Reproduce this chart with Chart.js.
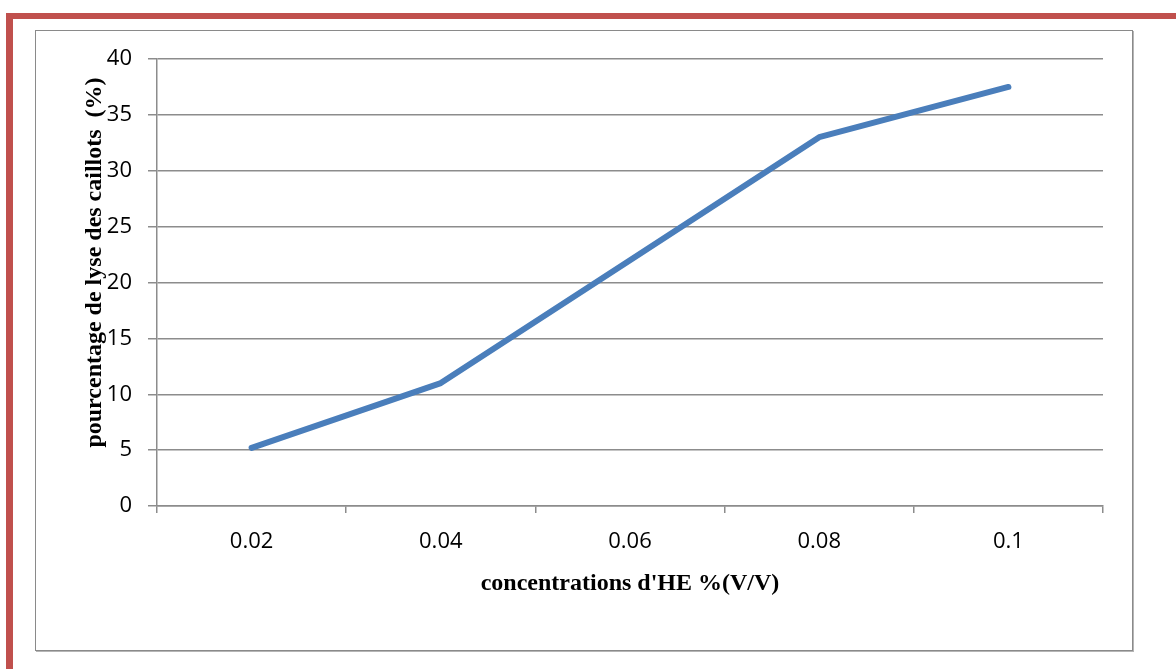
<!DOCTYPE html>
<html>
<head>
<meta charset="utf-8">
<script src="https://cdn.jsdelivr.net/npm/chart.js@4.4.1/dist/chart.umd.min.js"></script>
<style>
  html, body { margin: 0; padding: 0; background: #fff; }
  #wrap { position: relative; width: 1176px; height: 669px; overflow: hidden; }
  .frame-top { position: absolute; left: 6px; top: 13px; width: 1170px; height: 6px; background: #C0504D; }
  .frame-left { position: absolute; left: 6px; top: 13px; width: 7px; height: 656px; background: #C0504D; }
  .box { position: absolute; left: 35px; top: 30px; width: 1096px; height: 619px;
         border: 1px solid #8a8a8a; box-shadow: 1px 1px 0 #b5b5b5; }
  canvas { position: absolute; left: 0; top: 0; }
</style>
</head>
<body>
<div id="wrap">
  <div class="frame-top"></div>
  <div class="frame-left"></div>
  <div class="box"></div>
  <canvas id="c" width="1176" height="669"></canvas>
</div>
<script>
// Concentrations of essential oil (% V/V) and clot lysis (%)
const concentrations = ['0.02', '0.04', '0.06', '0.08', '0.1'];
const lysisPercent = [5.2, 11, 22, 33, 37.5];
const yTicks = [0, 5, 10, 15, 20, 25, 30, 35, 40];
const yTitle = 'pourcentage de lyse des caillots  (%)';
const xTitle = "concentrations d'HE %(V/V)";

const gridGray = '#8c8c8c';
const titleFont = 'bold 24px "Liberation Serif"';

// Vertical axis title, placed slightly above the axis centre
const yTitlePlugin = {
  id: 'yTitle',
  afterDraw(chart) {
    const ctx = chart.ctx;
    const area = chart.chartArea;
    ctx.save();
    ctx.translate(95, (area.top + area.bottom) / 2 - 20);
    ctx.rotate(-Math.PI / 2);
    ctx.font = titleFont;
    ctx.fillStyle = '#000';
    ctx.textAlign = 'center';
    ctx.textBaseline = 'middle';
    ctx.fillText(yTitle, 0, 0);
    ctx.restore();
  }
};

new Chart(document.getElementById('c'), {
  type: 'line',
  data: {
    labels: concentrations,
    datasets: [{
      data: lysisPercent,
      borderColor: '#4A7EBB',
      borderWidth: 6,
      borderCapStyle: 'round',
      borderJoinStyle: 'round',
      pointRadius: 0,
      tension: 0,
      fill: false
    }]
  },
  plugins: [yTitlePlugin],
  options: {
    responsive: false,
    animation: false,
    devicePixelRatio: 1,
    layout: { padding: { left: 0, top: 59, right: 73, bottom: 0 } },
    plugins: { legend: { display: false }, tooltip: { enabled: false } },
    scales: {
      x: {
        type: 'category',
        offset: true,
        grid: {
          offset: true,
          drawOnChartArea: false,
          drawTicks: true,
          tickLength: 7,
          color: gridGray,
          lineWidth: 1.5
        },
        border: { color: gridGray, width: 1.5 },
        ticks: {
          color: '#000',
          font: { family: 'Open Sans', size: 22 },
          padding: 16,
          maxRotation: 0
        },
        title: {
          display: true,
          text: xTitle,
          color: '#000',
          font: { family: 'Liberation Serif', size: 24, weight: 'bold' },
          padding: { top: 0, bottom: 71 }
        },
        afterFit(scale) { scale.height = 163; }
      },
      y: {
        min: 0,
        max: 40,
        afterBuildTicks(scale) { scale.ticks = yTicks.map(v => ({ value: v })); },
        grid: {
          color: gridGray,
          lineWidth: 1.5,
          drawTicks: true,
          tickLength: 9
        },
        border: { color: gridGray, width: 1.5 },
        ticks: {
          color: '#000',
          font: { family: 'Open Sans', size: 22 },
          padding: 16
        },
        title: { display: false },
        afterFit(scale) { scale.width = 157; }
      }
    }
  }
});
</script>
</body>
</html>
